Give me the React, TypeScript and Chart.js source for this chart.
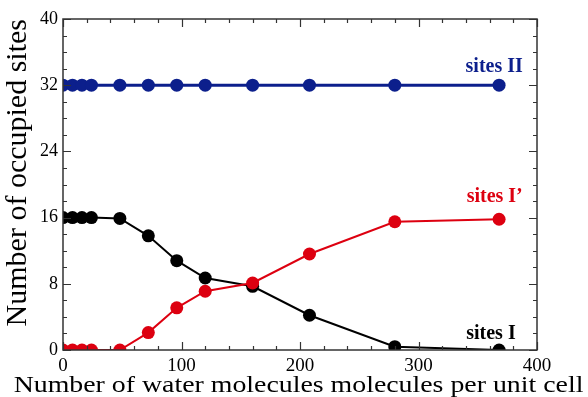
import React, { useEffect, useRef } from "react";
import { Chart, registerables } from "chart.js";

Chart.register(...registerables);

const waterMolecules = [0, 8, 16, 24, 48, 72, 96, 120, 160, 208, 280, 368];
const sitesII = [32, 32, 32, 32, 32, 32, 32, 32, 32, 32, 32, 32];
const sitesIPrime = [0, 0, 0, 0, 0, 2.1, 5.1, 7.1, 8.1, 11.6, 15.5, 15.8];
const sitesI = [16, 16, 16, 16, 15.9, 13.8, 10.8, 8.7, 7.7, 4.2, 0.4, 0];

const xTickLabels = [0, 100, 200, 300, 400];
const yTickLabels = [0, 8, 16, 24, 32, 40];

const xTitle = "Number of water molecules molecules per unit cell";
const yTitle = "Number of occupied sites";

const BLUE = "#0c1f8c";
const RED = "#dd0010";
const BLACK = "#000000";

const seriesLabels = [
  { text: "sites II", x: 388, y: 34.2, color: BLUE },
  { text: "sites I\u2019", x: 388, y: 18.5, color: RED },
  { text: "sites I", x: 382, y: 2.0, color: BLACK },
];

const SERIF = "'Liberation Serif', 'Times New Roman', serif";

const framePlugin = {
  id: "frameTicks",
  afterDraw(chart: any) {
    const { ctx, chartArea } = chart;
    const xs = chart.scales.x;
    const ys = chart.scales.y;
    const { left, right, top, bottom } = chartArea;
    ctx.save();
    ctx.strokeStyle = "#333333";
    ctx.lineWidth = 1.5;
    ctx.strokeRect(left, top, right - left, bottom - top);
    ctx.lineWidth = 1.2;
    ctx.beginPath();
    for (let v = 0; v <= 400; v += 20) {
      const px = Math.round(xs.getPixelForValue(v)) + 0.5;
      const len = v % 100 === 0 ? 8 : 4;
      ctx.moveTo(px, bottom);
      ctx.lineTo(px, bottom - len);
      ctx.moveTo(px, top);
      ctx.lineTo(px, top + len);
    }
    for (let v = 0; v <= 40; v += 2) {
      const py = Math.round(ys.getPixelForValue(v)) + 0.5;
      const len = v % 8 === 0 ? 8 : 4;
      ctx.moveTo(left, py);
      ctx.lineTo(left + len, py);
      ctx.moveTo(right, py);
      ctx.lineTo(right - len, py);
    }
    ctx.stroke();
    ctx.font = `bold 20px ${SERIF}`;
    ctx.textAlign = "right";
    ctx.textBaseline = "middle";
    for (const l of seriesLabels) {
      ctx.fillStyle = l.color;
      ctx.fillText(l.text, xs.getPixelForValue(l.x), ys.getPixelForValue(l.y));
    }
    // x axis title (wide, slightly condensed vertically like the reference)
    ctx.fillStyle = "#000";
    ctx.font = `24px ${SERIF}`;
    ctx.textAlign = "center";
    ctx.textBaseline = "alphabetic";
    ctx.translate((left + right) / 2 - 1.5, chart.height - 5);
    ctx.scale(1.16, 1);
    ctx.fillText(xTitle, 0, 0);
    ctx.restore();
  },
};

export default function App() {
  const ref = useRef<HTMLCanvasElement>(null);
  useEffect(() => {
    const mk = (data: number[]) => waterMolecules.map((x, i) => ({ x, y: data[i] }));
    const chart = new Chart(ref.current!, {
      type: "line",
      data: {
        datasets: [
          { data: mk(sitesII), borderColor: BLUE, backgroundColor: BLUE, borderWidth: 3, pointRadius: 6.5, pointBorderWidth: 0 },
          { data: mk(sitesIPrime), borderColor: RED, backgroundColor: RED, borderWidth: 2, pointRadius: 6.5, pointBorderWidth: 0 },
          { data: mk(sitesI), borderColor: BLACK, backgroundColor: BLACK, borderWidth: 2, pointRadius: 6.5, pointBorderWidth: 0 },
        ],
      },
      options: {
        animation: false,
        responsive: false,
        maintainAspectRatio: false,
        layout: { padding: { top: 19, right: 51, left: 0, bottom: 0 } },
        plugins: { legend: { display: false }, tooltip: { enabled: false } },
        scales: {
          x: {
            type: "linear",
            min: 0,
            max: 400,
            afterBuildTicks: (s: any) => { s.ticks = xTickLabels.map((v) => ({ value: v })); },
            afterFit: (s: any) => { s.height = 47; },
            grid: { display: false, drawTicks: false },
            border: { display: false },
            ticks: { color: "#000", padding: 5, font: { family: SERIF, size: 19 }, maxRotation: 0 },
            title: { display: false },
          },
          y: {
            type: "linear",
            min: 0,
            max: 40,
            afterBuildTicks: (s: any) => { s.ticks = yTickLabels.map((v) => ({ value: v })); },
            afterFit: (s: any) => { s.width = 63; },
            grid: { display: false, drawTicks: false },
            border: { display: false },
            ticks: { color: "#000", padding: 5, font: { family: SERIF, size: 18 } },
            title: { display: true, text: yTitle, color: "#000", align: "end", padding: { top: 0, bottom: 0 }, font: { family: SERIF, size: 30 } },
          },
        },
      },
      plugins: [framePlugin],
    } as any);
    return () => chart.destroy();
  }, []);
  return (
    <div style={{ position: "fixed", left: 0, top: 0, width: 588, height: 397, background: "#fff" }}>
      <canvas ref={ref} width={588} height={397} style={{ width: 588, height: 397, display: "block" }} />
    </div>
  );
}
